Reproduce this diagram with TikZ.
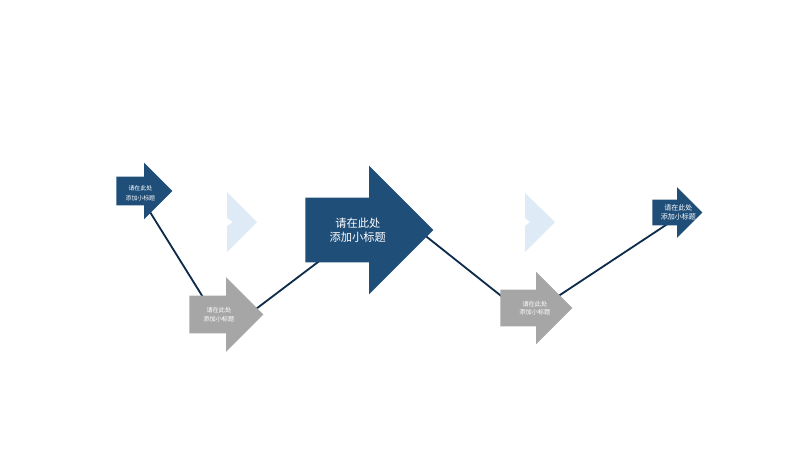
\documentclass[tikz,border=0pt]{standalone}
\usepackage{fontspec}
\newfontfamily\cjk{Noto Sans CJK SC}
\usepackage{xcolor}
\usetikzlibrary{shapes.arrows, calc, backgrounds}
\definecolor{navy}{HTML}{1F4E79}
\definecolor{stone}{HTML}{A6A6A6}
\definecolor{pale}{HTML}{DEEBF7}
\definecolor{ink}{HTML}{0F2B4A}
\tikzset{
    arrowbox/.style={single arrow, draw=none, fill=#1, single arrow tip angle=90, inner xsep=0pt, anchor=tail},
    arrowsize/.style={inner ysep=#1*0.125mm, single arrow head extend=#1*0.125mm, minimum height=#1*0.5mm},
    tag/.style 2 args={text=white, align=center, inner sep=0pt, font=\cjk\fontsize{#1}{#2}\selectfont},
    chevron/.style={fill=pale},
    link/.style={draw=ink, line width=1.3pt},
}

\begin{document}
\begin{tikzpicture}[x=0.025cm, y=-0.025cm]
    \useasboundingbox (0,0) rectangle (800,450);

    % Pale chevrons
    \fill[chevron] (227,192) -- (257,222) -- (227,252) -- (227,226) -- (233,222) -- (227,218) -- cycle;
    \fill[chevron] (525,193) -- (555,222) -- (525,252) -- (525,226) -- (530,222) -- (525,218) -- cycle;

    % Arrows
    \node[arrowbox=navy, arrowsize=28] (a1) at (116,191) {};
    \node[arrowbox=stone, arrowsize=37] (a2) at (189,314.5) {};
    \node[arrowbox=navy, arrowsize=64] (a3) at (305,230) {};
    \node[arrowbox=stone, arrowsize=36] (a4) at (500,308) {};
    \node[arrowbox=navy, arrowsize=25] (a5) at (652,212.5) {};

    % Titles
    \node[tag={4.2}{7}] (t1) at ($(a1.tail)!0.43!(a1.tip)+(0,2)$) {请在此处\\添加小标题};
    \node[tag={4.4}{6}] (t2) at ($(a2.tail)!0.40!(a2.tip)$) {请在此处\\添加小标题};
    \node[tag={8}{10}] (t3) at ($(a3.tail)!0.41!(a3.tip)$) {请在此处\\添加小标题};
    \node[tag={4.4}{6}] (t4) at ($(a4.tail)!0.48!(a4.tip)$) {请在此处\\添加小标题};
    \node[tag={5}{6}] (t5) at ($(a5.tail)!0.52!(a5.tip)$) {请在此处\\添加小标题};

    % Links
    \begin{scope}[on background layer]
        \draw[link] ([shift={(29,13)}]a1.tail) -- ([shift={(17,-12.5)}]a2.tail);
        \draw[link] ([shift={(63,-2.5)}]a2.tail) -- ([shift={(17,29)}]a3.tail);
        \draw[link] ([shift={(115,1.5)}]a3.tail) -- ([shift={(5,-9)}]a4.tail);
        \draw[link] ([shift={(56,-10.4)}]a4.tail) -- ([shift={(20,8.5)}]a5.tail);
    \end{scope}
\end{tikzpicture}
\end{document}
